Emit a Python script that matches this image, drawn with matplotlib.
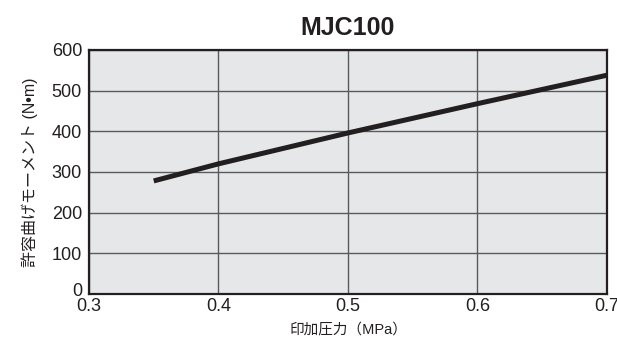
import matplotlib
matplotlib.use("Agg")
import matplotlib.pyplot as plt
import matplotlib.transforms as mtransforms

plt.rcParams['font.family'] = ['Liberation Sans', 'Noto Sans CJK JP', 'DejaVu Sans']

# Data
pressure = [0.35, 0.4, 0.5, 0.6, 0.7]          # MPa
moment = [278, 320, 396, 468, 538]             # N·m
x_ticks = [0.3, 0.4, 0.5, 0.6, 0.7]
x_tick_labels = ['0.3', '0.4', '0.5', '0.6', '0.7']
y_ticks = [0, 100, 200, 300, 400, 500, 600]

dark = '#231f20'
grid_col = '#5a5a5c'

fig = plt.figure(figsize=(6.17, 3.4), dpi=100)
ax = fig.add_axes([0.1442, 0.1353, 0.8396, 0.7177])
ax.set_facecolor('#e6e7e8')

ax.plot(pressure, moment, color=dark, linewidth=3.6, solid_capstyle='butt', zorder=3)

ax.set_xlim(0.3, 0.7)
ax.set_ylim(0, 600)
ax.set_xticks(x_ticks)
ax.set_xticklabels(x_tick_labels)
ax.set_yticks(y_ticks)
ax.tick_params(axis='both', length=0, labelsize=13, colors=dark)
ax.tick_params(axis='x', pad=3)
ax.tick_params(axis='y', pad=5)
ax.grid(True, color=grid_col, linewidth=1.0, zorder=1)

for sp in ax.spines.values():
    sp.set_linewidth(1.6)
    sp.set_color(dark)

# the "0" on the y axis sits a bit higher than its gridline, as in the original
zero_lbl = ax.get_yticklabels()[0]
zero_lbl.set_transform(zero_lbl.get_transform() +
                       mtransforms.ScaledTranslation(0, 3 / 72, fig.dpi_scale_trans))

ax.set_title('MJC100', fontsize=18, fontweight='bold', color=dark, pad=11)
ax.set_xlabel('印加圧力（MPa）', fontsize=10.5, color=dark, labelpad=5)
ax.set_ylabel('許容曲げモーメント (N•m)', fontsize=11.5, color=dark, labelpad=10)

fig.savefig('out.png', dpi=100)
